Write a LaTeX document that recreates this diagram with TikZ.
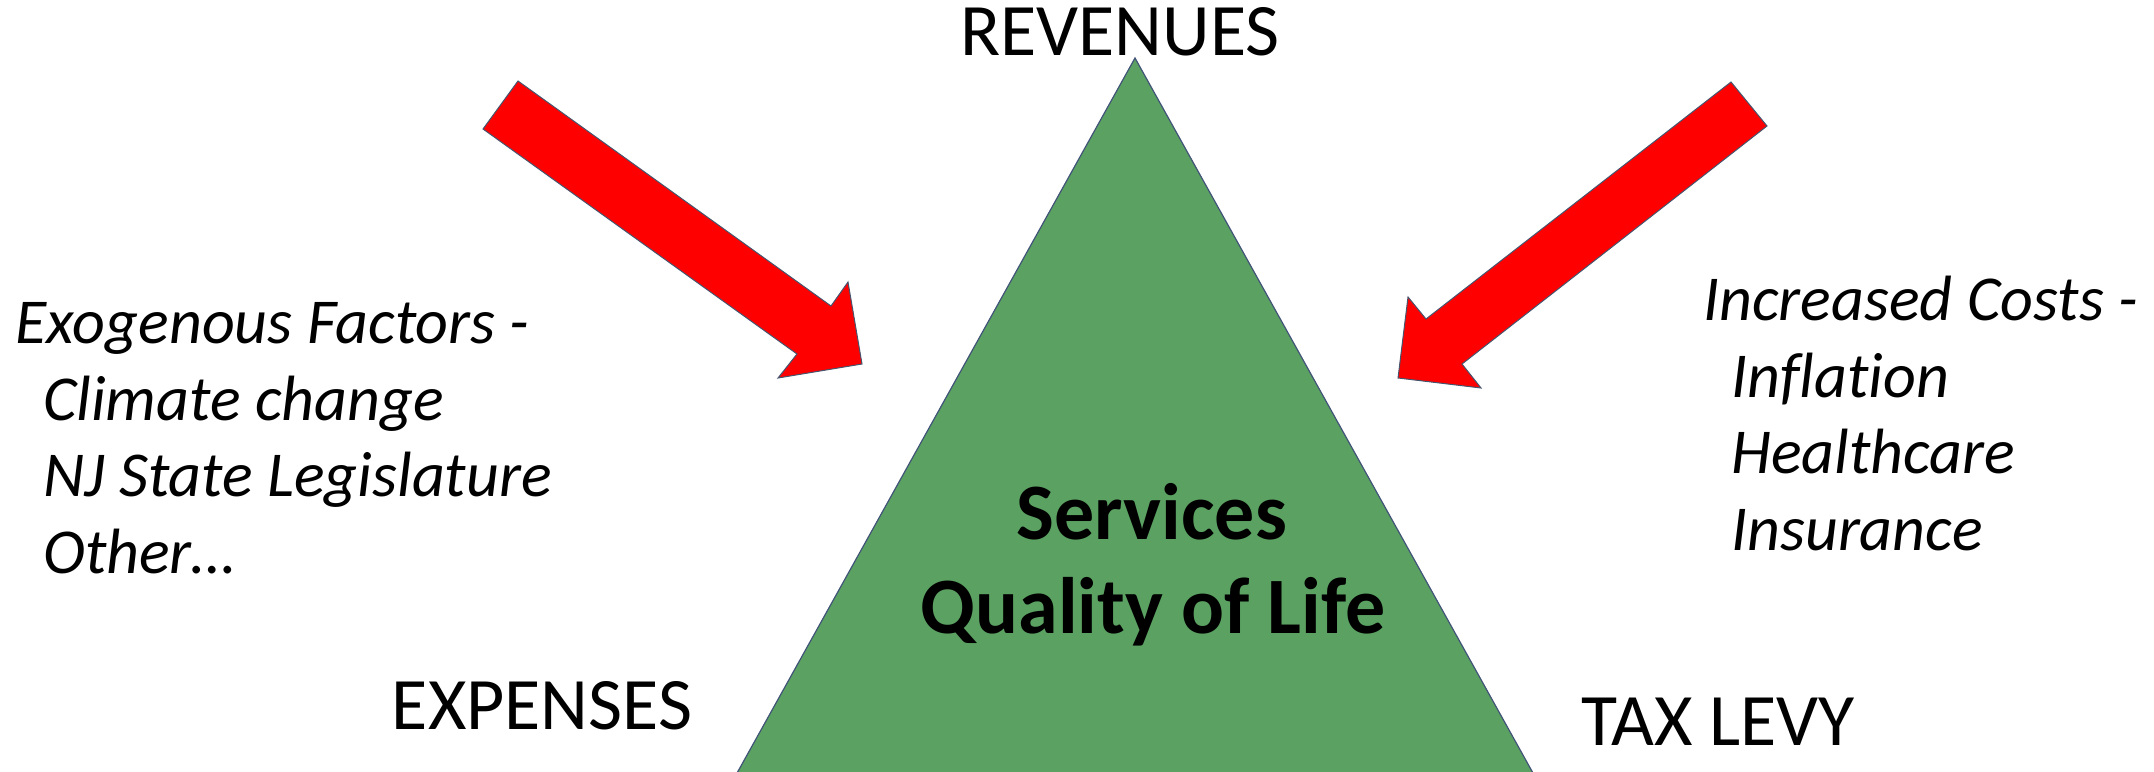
\documentclass[tikz,border=0pt]{standalone}
\usepackage{fontspec}
\setmainfont{Carlito}[Ligatures=NoCommon]
\definecolor{trigreen}{RGB}{91,161,98}
\definecolor{triedge}{RGB}{65,84,120}
\definecolor{arrred}{RGB}{255,0,0}
\definecolor{arredge}{RGB}{70,85,110}
\tikzset{
  label/.style={inner sep=0pt, anchor=base, font=\fontsize{74}{80}\selectfont},
  listline/.style={inner sep=0pt, anchor=base west, font=\fontsize{64}{77}\selectfont\itshape},
  centertext/.style={inner sep=0pt, anchor=base, font=\fontsize{80}{94}\selectfont\bfseries},
  blockarrow/.style={fill=arrred, draw=arredge, line width=1pt, line join=miter},
  tri/.style={fill=trigreen, draw=triedge, line width=1.2pt}
}
\begin{document}
\begin{tikzpicture}[x=1pt,y=-1pt]
\useasboundingbox (0,0) rectangle (2154,771);
\begin{scope}
\clip (0,0) rectangle (2154,771);
\draw[tri] (1135,58) -- (1548,800) -- (722,800) -- cycle;
\end{scope}
% left block arrow
\draw[blockarrow] (518,81) -- (831,306) -- (848,282) -- (862,364) -- (778,378) -- (797,354) -- (483,129) -- cycle;
% right block arrow
\draw[blockarrow] (1731,82) -- (1767,126) -- (1462,364) -- (1481,388) -- (1398,378) -- (1408,297) -- (1426,319) -- cycle;
% labels
\node[label] (rev) at (1120,55) {REVENUES};
\node[label] (exp) at (542,729) {EXPENSES};
\node[label] (tax) at (1718,745) {TAX LEVY};
% center text
\node[centertext] (serv) at (1152,539) {Services};
\node[centertext] (qol) at (1153,633) {Quality of Life};
% left list
\node[listline] (l1) at (15,343) {Exogenous Factors -};
\node[listline] (l2) at (43,420) {Climate change};
\node[listline] (l3) at (43,496) {NJ State Legislature};
\node[listline] (l4) at (43,573) {Other…};
% right list
\node[listline] (r1) at (1703,320) {Increased Costs -};
\node[listline] (r2) at (1731,397) {Inflation};
\node[listline] (r3) at (1731,473) {Healthcare};
\node[listline] (r4) at (1731,550) {Insurance};
\end{tikzpicture}
\end{document}
